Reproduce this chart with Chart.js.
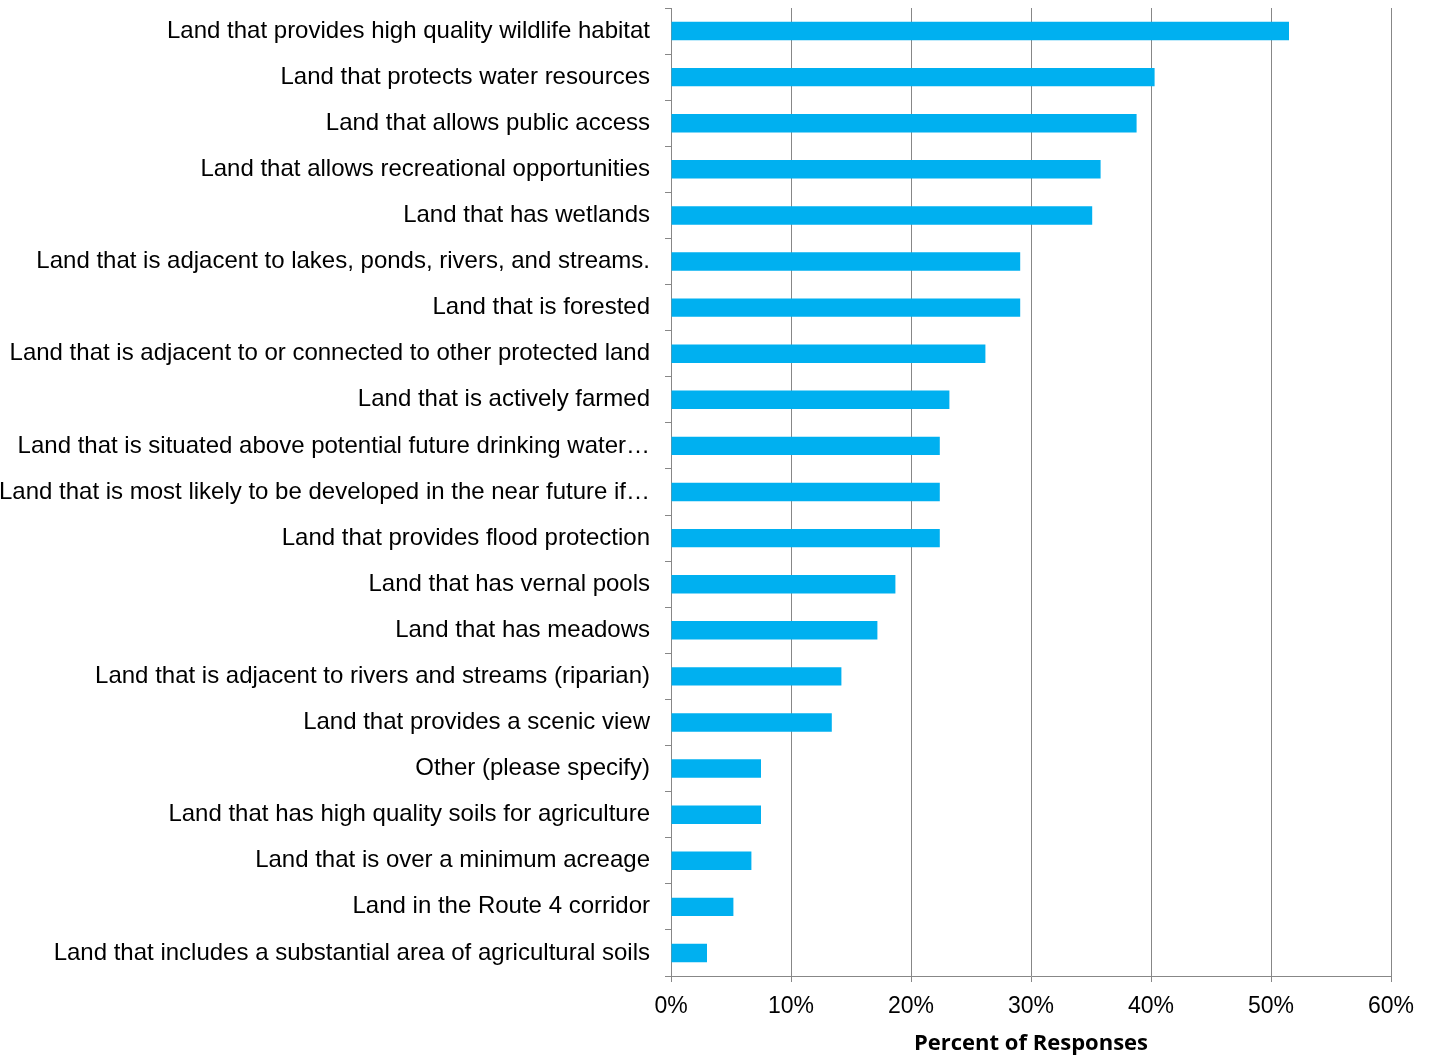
<!DOCTYPE html>
<html>
<head>
<meta charset="utf-8">
<script src="https://cdn.jsdelivr.net/npm/chart.js@4"></script>
<style>
  html, body { margin: 0; padding: 0; background: #fff; }
  #wrap { width: 1431px; height: 1057px; position: relative; }
</style>
</head>
<body>
<div id="wrap"><canvas id="c" width="1431" height="1057"></canvas></div>
<script>
const categories = [
  "Land that provides high quality wildlife habitat",
  "Land that protects water resources",
  "Land that allows public access",
  "Land that allows recreational opportunities",
  "Land that has wetlands",
  "Land that is adjacent to lakes, ponds, rivers, and streams.",
  "Land that is forested",
  "Land that is adjacent to or connected to other protected land",
  "Land that is actively farmed",
  "Land that is situated above potential future drinking water\u2026",
  "Land that is most likely to be developed in the near future if\u2026",
  "Land that provides flood protection",
  "Land that has vernal pools",
  "Land that has meadows",
  "Land that is adjacent to rivers and streams (riparian)",
  "Land that provides a scenic view",
  "Other (please specify)",
  "Land that has high quality soils for agriculture",
  "Land that is over a minimum acreage",
  "Land in the Route 4 corridor",
  "Land that includes a substantial area of agricultural soils"
];
const percentValues = [51.5, 40.3, 38.8, 35.8, 35.1, 29.1, 29.1, 26.2, 23.2, 22.4, 22.4, 22.4, 18.7, 17.2, 14.2, 13.4, 7.5, 7.5, 6.7, 5.2, 3.0];
const xTickMax = 60;
const xTickStep = 10;
const axisTitle = "Percent of Responses";

new Chart(document.getElementById('c'), {
  type: 'bar',
  data: {
    labels: categories,
    datasets: [{
      data: percentValues,
      backgroundColor: '#00B0F0',
      borderWidth: 0,
      categoryPercentage: 1.0,
      barPercentage: 0.4
    }]
  },
  options: {
    indexAxis: 'y',
    responsive: false,
    animation: false,
    devicePixelRatio: 1,
    layout: { padding: { top: 8, right: 40, left: 0, bottom: 0 } },
    plugins: { legend: { display: false }, tooltip: { enabled: false } },
    scales: {
      x: {
        min: 0, max: xTickMax,
        ticks: {
          stepSize: xTickStep,
          callback: v => v + '%',
          font: { family: 'Liberation Sans, Arial', size: 23 },
          color: '#000',
          padding: 11
        },
        grid: { color: '#878787', lineWidth: 1, tickLength: 6, drawTicks: true },
        border: { color: '#878787' },
        title: {
          display: true,
          text: axisTitle,
          font: { family: 'Open Sans', size: 22, weight: 'bold' },
          color: '#000',
          padding: { top: 4, bottom: 0 }
        },
        afterFit: s => { s.height = 81; s.paddingLeft = 0; s.paddingRight = 0; }
      },
      y: {
        ticks: {
          font: { family: 'Liberation Sans, Arial', size: 24 },
          color: '#000',
          padding: 15,
          autoSkip: false
        },
        grid: { drawOnChartArea: false, drawTicks: true, tickLength: 6, color: '#878787', offset: true },
        border: { color: '#878787' },
        afterFit: s => { s.width = 671; s.paddingTop = 0; s.paddingBottom = 0; }
      }
    }
  }
});
</script>
</body>
</html>
